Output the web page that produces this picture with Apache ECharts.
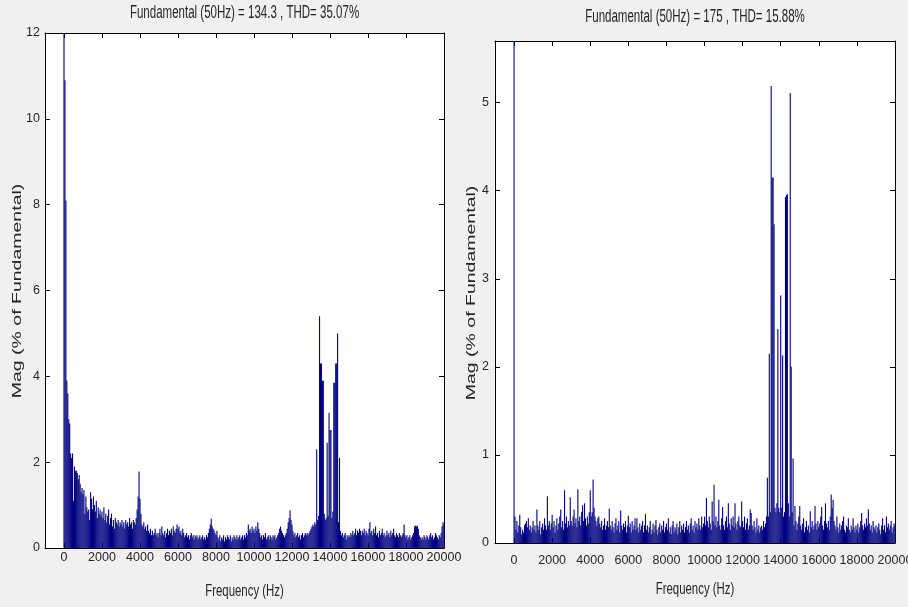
<!DOCTYPE html>
<html><head><meta charset="utf-8">
<script src="https://cdn.jsdelivr.net/npm/echarts@6/dist/echarts.min.js"></script>
<style>html,body{margin:0;padding:0;background:#f0f0f0}#c{width:908px;height:607px}</style>
</head><body><div id="c"></div>
<script>
// ---- data ----
const FREQ_STEP = 50;            // Hz per FFT bin
const FREQ_MIN = -1000, FREQ_MAX = 20000;
const X_TICK_STEP = 2000;
const leftTitle = 'Fundamental (50Hz) = 134.3 , THD= 35.07%';
const rightTitle = 'Fundamental (50Hz) = 175 , THD= 15.88%';
const xName = 'Frequency (Hz)';
const yName = 'Mag (% of Fundamental)';

// magnitude (% of fundamental) per 50 Hz bin, 0 .. 20000 Hz (20 bins per row = 1000 Hz)
const leftMag = [
100,10.9,8.1,3.9,3.6,3.0,2.9,2.2,2.1,2.2,1.1,1.9,1.8,1.8,1.75,1.6,1.7,1.5,1.3,1.4,
1.25,1.35,0.8,1.2,0.95,0.85,0.9,0.65,1.3,1.15,0.9,1.2,1.0,0.85,1.1,0.7,0.95,0.8,0.9,0.75,
0.85,0.7,0.95,0.65,0.8,0.6,0.75,0.9,0.55,0.7,0.8,0.5,0.65,0.45,0.7,0.6,0.55,0.65,0.5,0.6,
0.55,0.65,0.5,0.6,0.45,0.65,0.55,0.6,0.5,0.7,0.55,0.6,0.45,0.65,0.6,0.55,0.7,0.9,1.2,1.78,
1.15,0.8,0.55,0.5,0.6,0.45,0.5,0.4,0.55,0.4,0.35,0.45,0.3,0.4,0.3,0.35,0.45,0.3,0.35,0.25,
0.35,0.45,0.3,0.5,0.35,0.3,0.4,0.25,0.35,0.45,0.3,0.4,0.35,0.45,0.3,0.5,0.4,0.35,0.45,0.55,
0.45,0.5,0.35,0.4,0.3,0.45,0.35,0.25,0.3,0.35,0.25,0.3,0.2,0.3,0.35,0.25,0.3,0.2,0.3,0.25,
0.3,0.2,0.25,0.3,0.2,0.25,0.3,0.2,0.25,0.2,0.3,0.25,0.35,0.45,0.55,0.68,0.5,0.45,0.4,0.35,
0.3,0.4,0.25,0.2,0.3,0.15,0.25,0.2,0.3,0.15,0.25,0.2,0.3,0.25,0.2,0.3,0.15,0.25,0.2,0.3,
0.25,0.2,0.3,0.2,0.25,0.3,0.2,0.25,0.3,0.2,0.3,0.25,0.35,0.3,0.55,0.4,0.45,0.35,0.5,0.4,
0.45,0.35,0.5,0.4,0.6,0.45,0.35,0.25,0.3,0.2,0.3,0.25,0.35,0.2,0.25,0.3,0.2,0.3,0.25,0.2,
0.3,0.25,0.3,0.2,0.25,0.3,0.35,0.45,0.5,0.4,0.35,0.3,0.25,0.3,0.35,0.45,0.6,0.7,0.88,0.65,
0.55,0.4,0.3,0.35,0.25,0.3,0.35,0.25,0.3,0.2,0.3,0.35,0.25,0.3,0.35,0.3,0.35,0.3,0.35,0.4,
0.45,0.5,0.55,0.5,0.6,0.55,2.3,0.65,0.75,5.4,4.3,4.3,3.9,3.9,0.8,0.65,0.7,2.45,0.75,3.15,
2.75,2.75,0.7,0.85,3.85,3.85,4.3,4.3,5.0,0.6,2.1,0.4,0.3,0.35,0.25,0.3,0.35,0.2,0.3,0.25,
0.3,0.25,0.35,0.3,0.4,0.3,0.35,0.45,0.3,0.4,0.35,0.45,0.4,0.3,0.4,0.35,0.45,0.3,0.4,0.35,
0.3,0.45,0.6,0.35,0.4,0.3,0.45,0.35,0.5,0.3,0.35,0.25,0.4,0.3,0.35,0.45,0.3,0.35,0.25,0.3,
0.4,0.3,0.35,0.25,0.4,0.3,0.35,0.45,0.3,0.25,0.35,0.3,0.25,0.35,0.3,0.25,0.3,0.35,0.55,0.3,
0.25,0.3,0.2,0.25,0.3,0.2,0.25,0.3,0.35,0.5,0.52,0.5,0.52,0.45,0.3,0.25,0.2,0.25,0.2,0.3,
0.25,0.2,0.3,0.25,0.2,0.3,0.35,0.25,0.3,0.2,0.25,0.35,0.3,0.25,0.2,0.3,0.25,0.35,0.5,0.6,
0.55
];
const rightMag = [
100,0.3,0.15,0.25,0.12,0.2,0.32,0.18,0.1,0.15,0.12,0.2,0.22,0.25,0.18,0.28,0.15,0.2,0.12,0.18,
0.25,0.15,0.2,0.12,0.38,0.2,0.15,0.25,0.1,0.18,0.22,0.15,0.28,0.2,0.15,0.53,0.2,0.25,0.15,0.22,
0.32,0.18,0.25,0.12,0.2,0.28,0.15,0.22,0.3,0.38,0.18,0.25,0.15,0.6,0.22,0.3,0.18,0.25,0.2,0.52,
0.25,0.2,0.3,0.38,0.22,0.28,0.18,0.61,0.25,0.3,0.2,0.35,0.43,0.25,0.45,0.28,0.2,0.3,0.22,0.35,
0.6,0.3,0.35,0.72,0.4,0.3,0.25,0.2,0.28,0.3,0.22,0.18,0.25,0.15,0.2,0.28,0.15,0.2,0.25,0.18,
0.39,0.2,0.15,0.25,0.18,0.12,0.22,0.28,0.15,0.2,0.25,0.12,0.37,0.2,0.15,0.22,0.18,0.25,0.12,0.2,
0.31,0.18,0.22,0.12,0.25,0.15,0.2,0.28,0.15,0.28,0.18,0.12,0.22,0.15,0.2,0.25,0.12,0.2,0.33,0.15,
0.2,0.12,0.18,0.25,0.1,0.15,0.22,0.12,0.2,0.26,0.15,0.1,0.18,0.22,0.12,0.2,0.15,0.25,0.12,0.18,
0.22,0.15,0.28,0.12,0.18,0.1,0.2,0.25,0.12,0.18,0.15,0.22,0.1,0.18,0.25,0.12,0.2,0.15,0.22,0.12,
0.18,0.25,0.15,0.2,0.12,0.22,0.28,0.15,0.2,0.12,0.25,0.18,0.22,0.15,0.28,0.2,0.15,0.3,0.18,0.22,
0.3,0.2,0.51,0.25,0.18,0.3,0.22,0.15,0.47,0.25,0.66,0.2,0.3,0.18,0.25,0.49,0.2,0.15,0.28,0.41,
0.2,0.15,0.25,0.3,0.18,0.45,0.22,0.15,0.28,0.2,0.3,0.18,0.45,0.22,0.15,0.25,0.3,0.2,0.18,0.47,
0.25,0.18,0.3,0.15,0.22,0.28,0.15,0.2,0.38,0.34,0.2,0.15,0.25,0.18,0.12,0.28,0.15,0.2,0.12,0.18,
0.2,0.15,0.25,0.18,0.22,0.3,0.74,0.3,2.15,0.35,5.19,4.15,4.15,3.62,0.4,0.35,0.45,2.43,0.4,0.35,
2.81,0.4,2.13,0.3,0.35,3.93,3.95,3.96,0.45,0.3,5.11,2.0,0.35,0.96,0.2,0.42,0.25,0.15,0.22,0.3,
0.42,0.2,0.15,0.22,0.28,0.12,0.18,0.25,0.15,0.2,0.12,0.36,0.18,0.25,0.15,0.2,0.42,0.22,0.15,0.25,
0.18,0.22,0.3,0.41,0.2,0.15,0.25,0.45,0.22,0.18,0.25,0.15,0.3,0.55,0.4,0.49,0.25,0.2,0.15,0.3,
0.18,0.12,0.22,0.15,0.2,0.25,0.3,0.15,0.12,0.2,0.18,0.28,0.15,0.12,0.2,0.15,0.28,0.18,0.12,0.2,
0.15,0.22,0.12,0.18,0.25,0.34,0.2,0.15,0.22,0.18,0.28,0.2,0.38,0.22,0.15,0.2,0.12,0.25,0.18,0.15,
0.2,0.12,0.18,0.22,0.15,0.1,0.2,0.28,0.15,0.2,0.12,0.3,0.18,0.22,0.15,0.2,0.25,0.12,0.18,0.22,
0.2
];
const leftYAxis = {min: 0, max: 12, interval: 2};
const rightYAxis = {min: 0, max: 5.7, interval: 1};

// ---- chart ----
const FONT = "'Liberation Sans',Arial,Helvetica,sans-serif";
const TXT = '#262626';
const BAR = '#000080';

const cats = [];
for (let f = FREQ_MIN; f <= FREQ_MAX; f += FREQ_STEP) cats.push(String(f));
const toSeries = mag => cats.map(c => { const f = Number(c); return f < 0 ? null : mag[f / FREQ_STEP]; });
const tickFn = (i, v) => Number(v) % X_TICK_STEP === 0;

const grids = [
  {left: 45, top: 33, width: 399, height: 515},
  {left: 495, top: 41, width: 400, height: 502}
];
const lineStyle = {color: '#000', width: 1};
const xAxes = [], yAxes = [];
function addAxes(gi, ycfg, o) {
  xAxes.push({gridIndex: gi, type: 'category', data: cats, boundaryGap: false, position: 'bottom',
    axisLine: {show: true, onZero: false, lineStyle},
    axisTick: {show: true, inside: true, length: 5, interval: tickFn, lineStyle},
    axisLabel: {interval: tickFn, margin: o.xm, color: TXT, fontFamily: FONT, fontSize: 12.5,
      showMinLabel: true, showMaxLabel: true, hideOverlap: false},
    splitLine: {show: false}});
  xAxes.push({gridIndex: gi, type: 'category', data: cats, boundaryGap: false, position: 'top',
    axisLine: {show: true, onZero: false, lineStyle},
    axisTick: {show: true, inside: true, length: 5, interval: tickFn, lineStyle},
    axisLabel: {show: false}, splitLine: {show: false}});
  yAxes.push({gridIndex: gi, type: 'value', min: ycfg.min, max: ycfg.max, interval: ycfg.interval, position: 'left',
    axisLine: {show: true, lineStyle},
    axisTick: {show: true, inside: true, length: 5, lineStyle},
    axisLabel: {margin: o.ym, color: TXT, fontFamily: FONT, fontSize: 12.5, showMaxLabel: o.smx},
    splitLine: {show: false}});
  yAxes.push({gridIndex: gi, type: 'value', min: ycfg.min, max: ycfg.max, interval: ycfg.interval, position: 'right',
    axisLine: {show: true, lineStyle},
    axisTick: {show: true, inside: true, length: 5, lineStyle},
    axisLabel: {show: false}, splitLine: {show: false}});
}
addAxes(0, leftYAxis, {xm: 3, ym: 5, smx: true});
addAxes(1, rightYAxis, {xm: 11, ym: 6, smx: false});

const series = [leftMag, rightMag].map((m, i) => ({
  type: 'bar', xAxisIndex: i * 2, yAxisIndex: i * 2, data: toSeries(m),
  barWidth: 1.1, itemStyle: {color: BAR}, clip: true, silent: true
}));

function txt(text, x, y, size, extra) {
  return Object.assign({type: 'text', x, y, silent: true,
    style: {text, fill: TXT, font: size + 'px ' + FONT, align: 'center', verticalAlign: 'middle'}}, extra);
}

const chart = echarts.init(document.getElementById('c'), null, {renderer: 'canvas'});
chart.setOption({
  animation: false,
  backgroundColor: '#f0f0f0',
  grid: grids.map(g => Object.assign({show: true, backgroundColor: '#fff', borderWidth: 0,
    containLabel: false, outerBoundsMode: 'none'}, g)),
  xAxis: xAxes, yAxis: yAxes, series,
  graphic: [
    txt(leftTitle, 244.5, 13, 18, {scaleX: 0.64}),
    txt(rightTitle, 695, 17, 18, {scaleX: 0.64}),
    txt(xName, 244.5, 591, 17, {scaleX: 0.67}),
    txt(xName, 695, 589, 17, {scaleX: 0.67}),
    txt(yName, 17, 291, 19.5, {rotation: Math.PI / 2, scaleY: 0.7}),
    txt(yName, 471, 293, 19.5, {rotation: Math.PI / 2, scaleY: 0.7})
  ]
});
</script></body></html>
